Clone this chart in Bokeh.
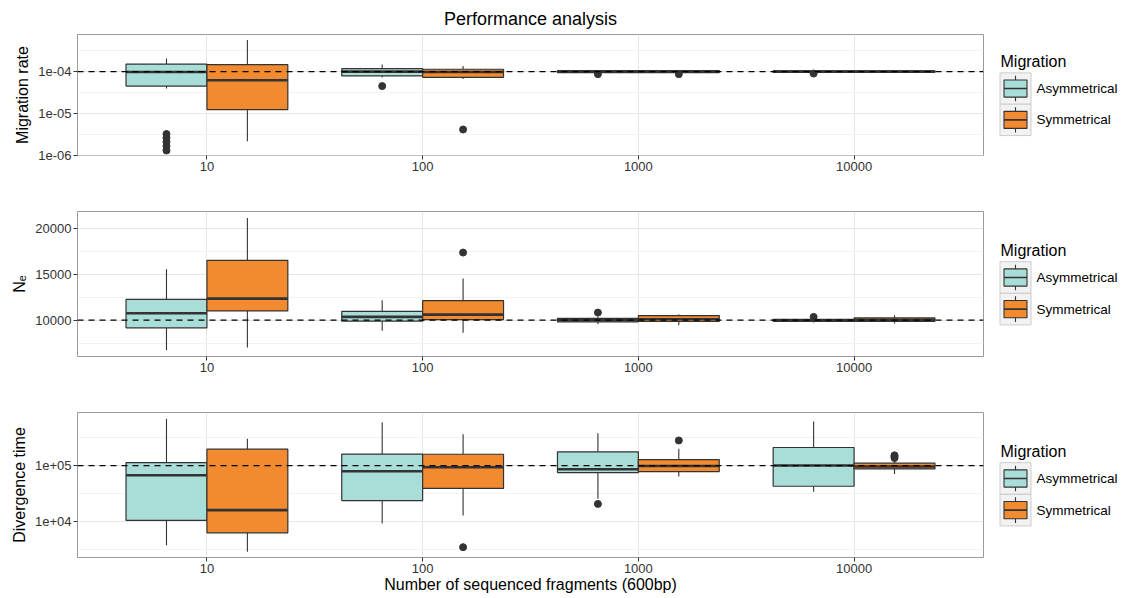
import numpy as np
from bokeh.plotting import figure
from bokeh.models import Range1d, FixedTicker, Span, ColumnDataSource
from bokeh.layouts import row, column
from bokeh.embed import file_html
from bokeh.resources import INLINE
from bokeh.core.properties import value

FONT = "Liberation Sans"

# ---------------- data ----------------
fragments = [10, 100, 1000, 10000]
fragment_labels = ["10", "100", "1000", "10000"]
migration_types = ["Asymmetrical", "Symmetrical"]

# Migration rate (true value 1e-04)
rate_asym_low = [3.96e-5, 7.2e-5, 9.2e-5, 9.3e-5]
rate_asym_q1 = [4.5e-5, 7.9e-5, 9.5e-5, 9.6e-5]
rate_asym_med = [9.8e-5, 1.0e-4, 1.0e-4, 1.0e-4]
rate_asym_q3 = [1.52e-4, 1.18e-4, 1.06e-4, 1.05e-4]
rate_asym_high = [2.07e-4, 1.49e-4, 1.09e-4, 1.08e-4]
rate_asym_out = [[3.2e-6, 2.6e-6, 2.1e-6, 1.64e-6, 1.29e-6], [4.5e-5], [8.7e-5], [9.0e-5]]
rate_sym_low = [2.15e-6, 6.7e-5, 9.2e-5, 9.3e-5]
rate_sym_q1 = [1.23e-5, 7.3e-5, 9.5e-5, 9.6e-5]
rate_sym_med = [6.2e-5, 9.8e-5, 1.0e-4, 1.0e-4]
rate_sym_q3 = [1.47e-4, 1.14e-4, 1.06e-4, 1.05e-4]
rate_sym_high = [5.74e-4, 1.36e-4, 1.09e-4, 1.08e-4]
rate_sym_out = [[], [4.1e-6], [8.7e-5], []]
rate_true = 1e-4

# Ne (true value 10000)
ne_asym_low = [6750, 8840, 9570, 9750]
ne_asym_q1 = [9170, 9890, 9820, 9880]
ne_asym_med = [10760, 10360, 9990, 10000]
ne_asym_q3 = [12270, 10970, 10200, 10100]
ne_asym_high = [15550, 12160, 10400, 10250]
ne_asym_out = [[], [], [10830], [10360]]
ne_sym_low = [7040, 8630, 9460, 9640]
ne_sym_q1 = [11010, 10070, 9860, 9880]
ne_sym_med = [12350, 10610, 10100, 10050]
ne_sym_q3 = [16520, 12130, 10500, 10250]
ne_sym_high = [21110, 14540, 10650, 10540]
ne_sym_out = [[], [17360], [], []]
ne_true = 10000

# Divergence time (true value 1e+05)
div_asym_low = [3.8e3, 9.3e3, 2.57e4, 3.4e4]
div_asym_q1 = [1.05e4, 2.37e4, 7.5e4, 4.27e4]
div_asym_med = [6.7e4, 7.9e4, 8.6e4, 1.0e5]
div_asym_q3 = [1.13e5, 1.6e5, 1.76e5, 2.1e5]
div_asym_high = [6.8e5, 5.9e5, 3.78e5, 6.1e5]
div_asym_out = [[], [], [2.07e4], []]
div_sym_low = [2.9e3, 1.28e4, 6.4e4, 7.1e4]
div_sym_q1 = [6.3e3, 3.9e4, 7.8e4, 8.7e4]
div_sym_med = [1.6e4, 9.3e4, 9.8e4, 9.6e4]
div_sym_q3 = [1.96e5, 1.59e5, 1.28e5, 1.1e5]
div_sym_high = [3.0e5, 3.6e5, 1.99e5, 1.23e5]
div_sym_out = [[], [3.5e3], [2.8e5], [1.36e5, 1.45e5, 1.52e5]]
div_true = 1e5

# ---------------- style ----------------
FILLS = ["#A8DDD8", "#F28A30"]
DARK = "#333333"
BORDER = "#9A9A9A"
GRID_MAJOR = "#E6E6E6"
GRID_MINOR = "#F3F3F3"
LEFT = 77
FRAME_W = 906
MAIN_W = LEFT + FRAME_W + 1
LEG_W = 1132 - MAIN_W
X_LO, X_HI = 0.40, 4.60          # log10 extent of x axis
DODGE = 0.375                    # box width in decades


def add_group(p, side, stats, color):
    low, q1, med, q3, high, outs = stats
    x = np.array(fragments, dtype=float)
    if side == 0:
        left, right = x * 10 ** (-DODGE), x
    else:
        left, right = x, x * 10 ** DODGE
    mid = np.sqrt(left * right)
    src = ColumnDataSource(dict(left=left, right=right, mid=mid, low=low, q1=q1,
                                med=med, q3=q3, high=high))
    p.segment(x0="mid", y0="q3", x1="mid", y1="high", source=src, line_color=DARK, line_width=1.1)
    p.segment(x0="mid", y0="low", x1="mid", y1="q1", source=src, line_color=DARK, line_width=1.1)
    p.quad(left="left", right="right", bottom="q1", top="q3", source=src,
           fill_color=color, line_color=DARK, line_width=1.2)
    p.segment(x0="left", y0="med", x1="right", y1="med", source=src, line_color=DARK, line_width=2.6)
    ox = [m for m, o in zip(mid, outs) for _ in o]
    oy = [v for o in outs for v in o]
    p.scatter(ox, oy, size=7, fill_color=DARK, line_color=DARK)


def make_panel(height, top, bottom, ylog, yrange, yticks, ylabels, yminor, ylabel,
               asym, sym, true_val):
    p = figure(width=MAIN_W, height=height, x_axis_type="log",
               y_axis_type="log" if ylog else "linear",
               x_range=Range1d(10 ** X_LO, 10 ** X_HI), y_range=Range1d(*yrange),
               output_backend="svg", toolbar_location=None,
               min_border_left=LEFT, min_border_right=1,
               min_border_top=top, min_border_bottom=bottom)
    p.background_fill_color = "white"
    p.border_fill_color = "white"
    p.outline_line_color = BORDER
    p.outline_line_width = 1

    p.xaxis.ticker = FixedTicker(ticks=fragments)
    p.xaxis.major_label_overrides = {f: l for f, l in zip(fragments, fragment_labels)}
    p.yaxis.ticker = FixedTicker(ticks=yticks, minor_ticks=yminor)
    p.yaxis.major_label_overrides = {t: l for t, l in zip(yticks, ylabels)}
    for ax in (p.xaxis[0], p.yaxis[0]):
        ax.axis_line_color = None
        ax.major_tick_line_color = DARK
        ax.major_tick_in = 0
        ax.major_tick_out = 4
        ax.minor_tick_line_color = None
        ax.major_label_standoff = 2
        ax.major_label_text_font = FONT
        ax.major_label_text_font_size = "13px"
        ax.major_label_text_color = "#333333"
        ax.axis_label_text_font = FONT
        ax.axis_label_text_font_size = "16px"
        ax.axis_label_text_font_style = "normal"
        ax.axis_label_text_color = "black"
        ax.axis_label_standoff = 4
    p.yaxis.axis_label = ylabel

    p.xgrid.grid_line_color = GRID_MAJOR
    p.ygrid.grid_line_color = GRID_MAJOR
    p.ygrid.minor_grid_line_color = GRID_MINOR
    p.xgrid.minor_grid_line_color = None

    add_group(p, 0, asym, FILLS[0])
    add_group(p, 1, sym, FILLS[1])

    p.add_layout(Span(location=true_val, dimension="width", line_color="black",
                      line_dash="6 5", line_width=1.3))
    return p


def make_legend(height, top, bottom):
    fh = height - top - bottom
    q = figure(width=LEG_W, height=height, x_range=Range1d(0, LEG_W), y_range=Range1d(fh, 0),
               output_backend="svg", toolbar_location=None,
               min_border_left=0, min_border_right=0, min_border_top=top,
               min_border_bottom=bottom, x_axis_location=None, y_axis_location=None)
    q.outline_line_color = None
    q.xgrid.visible = False
    q.ygrid.visible = False
    c = fh / 2.0
    key_l, key_r = 15.5, 46.5
    tops = [c - 22.3, c + 9.3]
    bots = [c + 9.3, c + 40.9]
    q.quad(left=[key_l] * 2, right=[key_r] * 2, top=tops, bottom=bots,
           fill_color="#F2F2F2", line_color="#CCCCCC", line_width=1)
    mids = [(a + b) / 2 for a, b in zip(tops, bots)]
    xm = (key_l + key_r) / 2
    q.segment(x0=[xm] * 2, x1=[xm] * 2, y0=[t + 3 for t in tops], y1=[b - 3 for b in bots],
              line_color=DARK, line_width=1.1)
    q.quad(left=[xm - 11.5] * 2, right=[xm + 11.5] * 2, top=[m - 8.6 for m in mids],
           bottom=[m + 8.6 for m in mids], fill_color=FILLS, line_color=DARK, line_width=1.1)
    q.segment(x0=[xm - 11.5] * 2, x1=[xm + 11.5] * 2, y0=mids, y1=mids,
              line_color=DARK, line_width=1.6)
    q.text(x=[16], y=[c - 34], text=["Migration"], text_font=value(FONT),
           text_font_size="16px", text_baseline="middle", text_align="left", text_color="black")
    q.text(x=[52, 52], y=mids, text=migration_types, text_font=value(FONT),
           text_font_size="13.5px", text_baseline="middle", text_align="left", text_color="black")
    return q


H1, T1, B1 = 188, 33, 33
H2, T2, B2 = 202, 23, 34
H3, T3, B3 = 208, 22, 41

p1 = make_panel(H1, T1, B1, True, (10 ** -6.01, 10 ** -3.11), [1e-6, 1e-5, 1e-4],
                ["1e-06", "1e-05", "1e-04"], [10 ** -5.5, 10 ** -4.5, 10 ** -3.5],
                "Migration rate",
                (rate_asym_low, rate_asym_q1, rate_asym_med, rate_asym_q3, rate_asym_high, rate_asym_out),
                (rate_sym_low, rate_sym_q1, rate_sym_med, rate_sym_q3, rate_sym_high, rate_sym_out),
                rate_true)
p2 = make_panel(H2, T2, B2, False, (6050, 21830), [10000, 15000, 20000],
                ["10000", "15000", "20000"], [7500, 12500, 17500], "N\u2091",
                (ne_asym_low, ne_asym_q1, ne_asym_med, ne_asym_q3, ne_asym_high, ne_asym_out),
                (ne_sym_low, ne_sym_q1, ne_sym_med, ne_sym_q3, ne_sym_high, ne_sym_out),
                ne_true)
p3 = make_panel(H3, T3, B3, True, (10 ** 3.36, 10 ** 5.946), [1e4, 1e5],
                ["1e+04", "1e+05"], [10 ** 3.5, 10 ** 4.5, 10 ** 5.5], "Divergence time",
                (div_asym_low, div_asym_q1, div_asym_med, div_asym_q3, div_asym_high, div_asym_out),
                (div_sym_low, div_sym_q1, div_sym_med, div_sym_q3, div_sym_high, div_sym_out),
                div_true)

p1.title.text = "Performance analysis"
p1.title.align = "center"
p1.title.text_font = FONT
p1.title.text_font_size = "18px"
p1.title.text_font_style = "normal"
p1.title.text_color = "black"
p1.title.standoff = 12

p3.xaxis.axis_label = "Number of sequenced fragments (600bp)"
p3.xaxis.axis_label_standoff = 0

l1 = make_legend(H1, T1, B1)
l2 = make_legend(H2, T2, B2)
l3 = make_legend(H3, T3, B3)

layout = column(row(p1, l1, spacing=0), row(p2, l2, spacing=0), row(p3, l3, spacing=0), spacing=0)
open("out.html", "w").write(file_html(layout, INLINE))
